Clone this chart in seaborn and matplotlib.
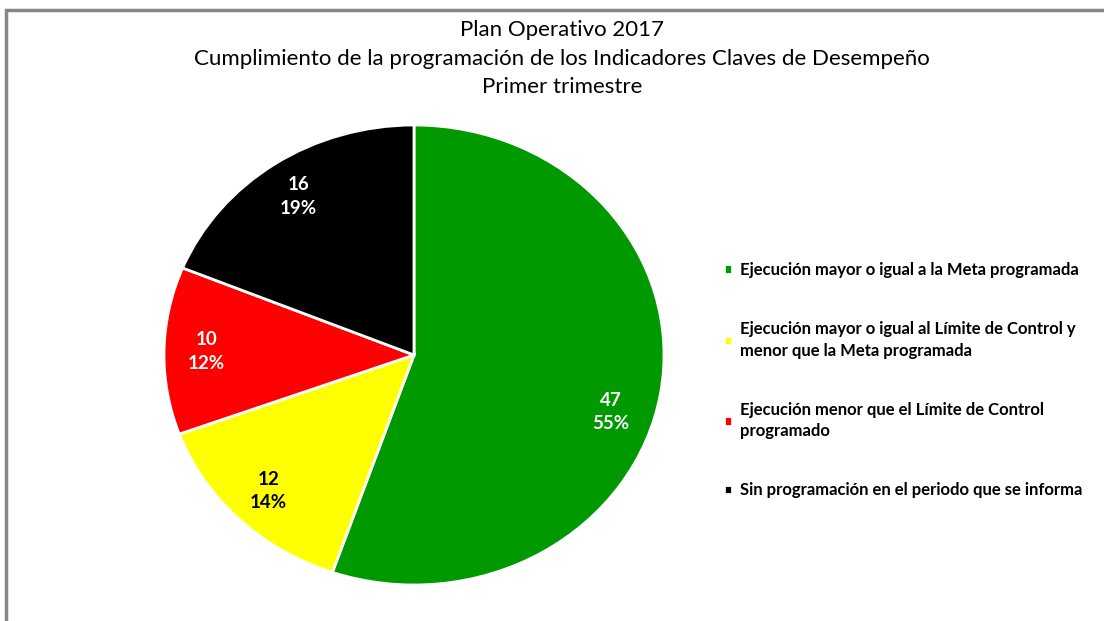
import matplotlib.pyplot as plt
import matplotlib.patches as mpatches
import seaborn as sns

categorias = [
    'Ejecución mayor o igual a la Meta programada',
    'Ejecución mayor o igual al Límite de Control y\nmenor que la Meta programada',
    'Ejecución menor que el Límite de Control\nprogramado',
    'Sin programación en el periodo que se informa',
]
valores = [47, 12, 10, 16]
colores = ['#009900', '#FFFF00', '#FF0000', '#000000']
color_texto = ['white', 'black', 'white', 'white']

titulo = ('Plan Operativo 2017\n'
          'Cumplimiento de la programación de los Indicadores Claves de Desempeño\n'
          'Primer trimestre')

sns.set_theme(style='white')
plt.rcParams['font.family'] = ['Lato', 'DejaVu Sans']
plt.rcParams['text.color'] = 'black'

fig = plt.figure(figsize=(11.04, 6.21), dpi=100)

# marco gris (solo se ven los lados superior e izquierdo)
fig.patches.append(mpatches.Rectangle((6 / 1104, -0.1), 1.2, 1 - 10 / 621 + 0.1,
                                      transform=fig.transFigure, fill=False,
                                      edgecolor='#878787', linewidth=2.5))

ax = fig.add_axes([164 / 1104, 36 / 621, 500 / 1104, 460 / 621])

total = sum(valores)


def etiqueta(pct):
    n = int(round(pct * total / 100))
    return f'{n}\n{pct:.0f}%'


wedges, textos, autotextos = ax.pie(
    valores, colors=colores, startangle=90, counterclock=False,
    autopct=etiqueta, pctdistance=0.83,
    wedgeprops=dict(edgecolor='white', linewidth=2),
    textprops=dict(fontsize=13.5, fontweight='bold', linespacing=1.45))

for t, c in zip(autotextos, color_texto):
    t.set_color(c)
# Excel coloca la etiqueta verde algo más abajo
px, py = autotextos[0].get_position()
autotextos[0].set_position((px - 0.03, py - 0.11))

ax.set_aspect('auto')
ax.set_xlim(-1.0, 1.0)
ax.set_ylim(-1.0, 1.0)

leg = ax.legend(wedges, categorias, loc='center left', bbox_to_anchor=(1.09, 0.445),
                frameon=False, prop=dict(size=12, weight='bold'), labelcolor='black',
                handlelength=0.5, handleheight=0.5, handletextpad=0.45,
                labelspacing=2.6)
for t in leg.get_texts():
    t.set_linespacing(1.4)

fig.text(0.509, 0.968, titulo, ha='center', va='top', fontsize=16,
         linespacing=1.55, color='black')

fig.savefig('out.png', dpi=100, facecolor='white')
